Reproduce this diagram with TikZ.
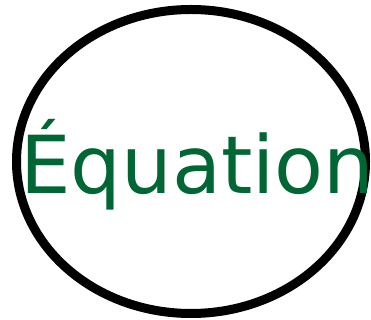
\documentclass[tikz,border=0pt]{standalone}
\usepackage{fontspec}
\setmainfont{DejaVu Sans}
\usetikzlibrary{shapes.geometric}
\definecolor{eqgreen}{RGB}{0,102,51}

\begin{document}
\begin{tikzpicture}[x=1pt, y=1pt,
        outline/.style={draw, ellipse, line width=9pt, minimum width=349pt, minimum height=304pt, inner sep=0pt},
        word/.style={text=eqgreen, inner sep=0pt, font=\fontsize{80}{96}\selectfont}
    ]
    \useasboundingbox (0,0) rectangle (371,320);
    % Ellipse
    \node[outline] (eq) at (191,158.5) {};
    % Label
    \node[word, anchor=base west] (label) at (20,126.5) {Équation};
\end{tikzpicture}
\end{document}
